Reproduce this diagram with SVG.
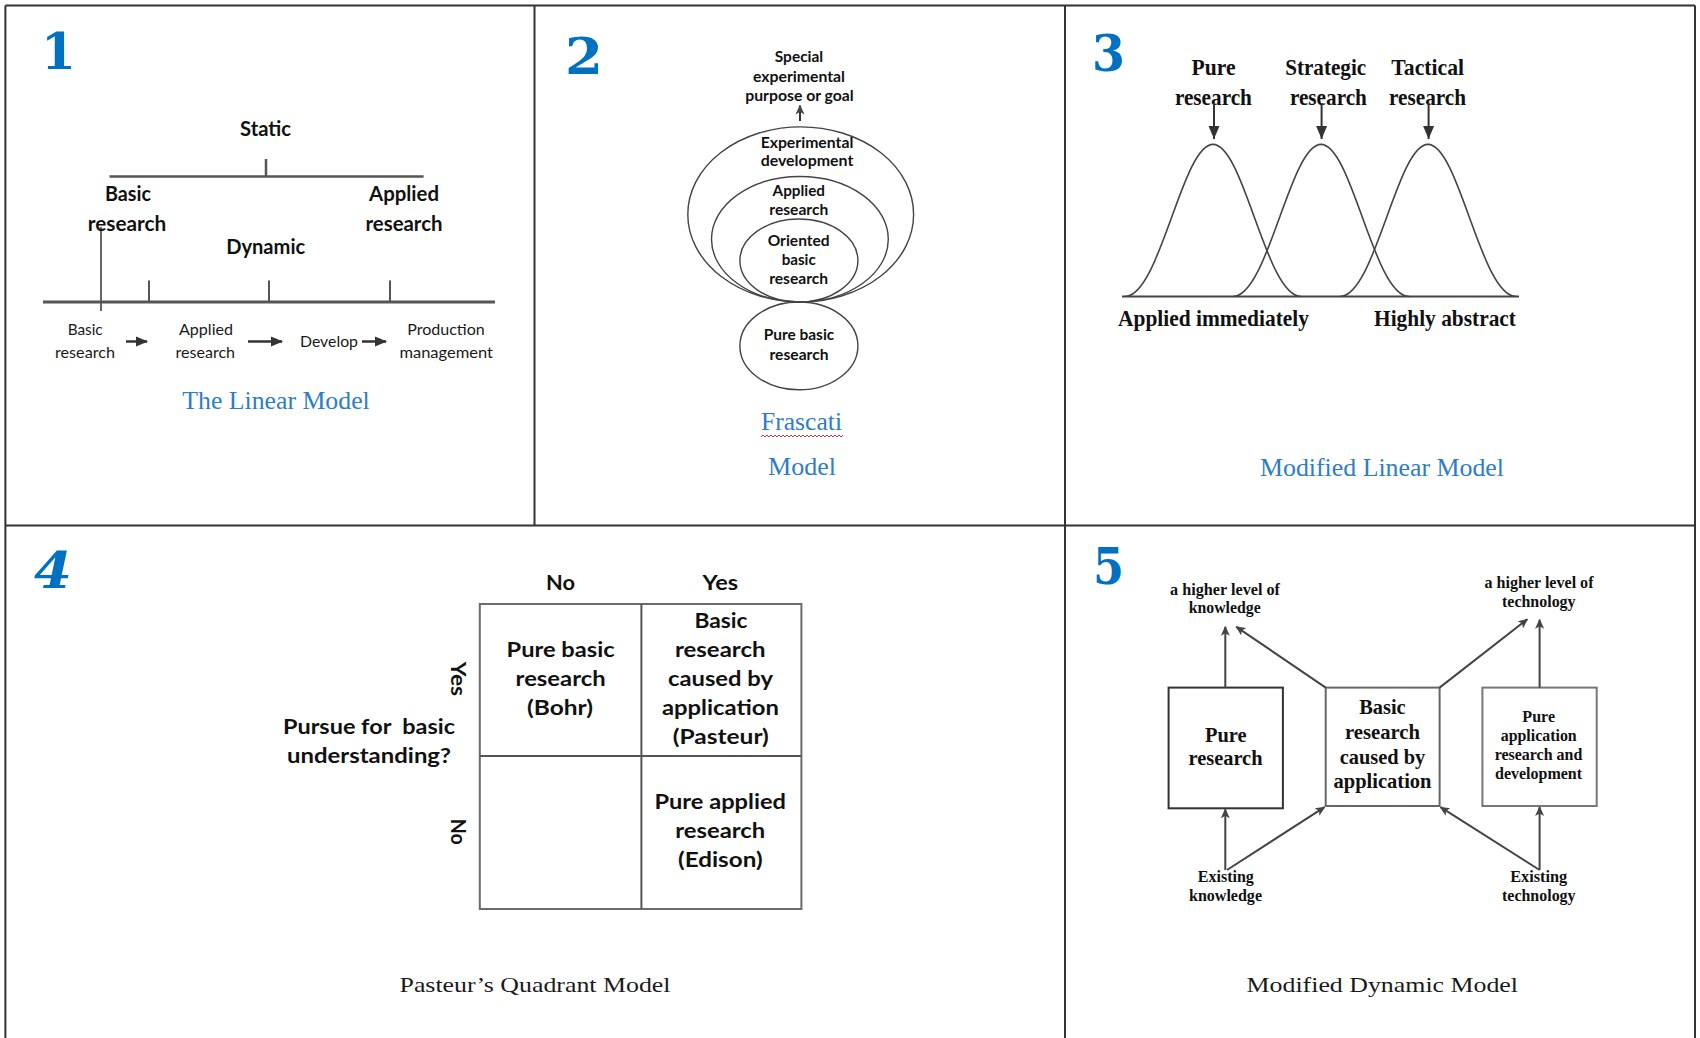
<svg xmlns="http://www.w3.org/2000/svg" width="1700" height="1038" viewBox="0 0 1700 1038">
<defs>
<style>
.frame{stroke:#333;stroke-width:2;fill:none}
.num{font-family:"DejaVu Serif","Liberation Serif",serif;font-weight:bold;font-size:50px;fill:#0070C0}
.cal{font-family:Lato,"Open Sans",sans-serif;font-weight:bold;fill:#111;text-anchor:middle}
.calr{font-family:Lato,"Open Sans",sans-serif;font-weight:normal;fill:#1a1a1a;text-anchor:middle}
.tnr{font-family:"Liberation Serif","Times New Roman",serif;font-weight:bold;fill:#111;text-anchor:middle}
.cap{font-family:"Liberation Serif","Times New Roman",serif;font-size:26px;fill:#2E7DC6;text-anchor:middle}
.capk{font-family:"Liberation Serif","Times New Roman",serif;font-size:22px;fill:#1a1a1a;text-anchor:middle}
.ln{stroke:#555;fill:none}
.ell{stroke:#444;stroke-width:1.4;fill:none}
.arr{stroke:#444;stroke-width:2;fill:none;marker-end:url(#ah)}
.bell{stroke:#444;stroke-width:1.6;fill:none}
</style>
<marker id="ah" markerWidth="10" markerHeight="10" refX="9" refY="5" orient="auto" markerUnits="userSpaceOnUse">
<path d="M0,0.5 L10,5 L0,9.5 L2.5,5 Z" fill="#444"/>
</marker>
<marker id="ah2" markerWidth="12" markerHeight="12" refX="11" refY="6" orient="auto" markerUnits="userSpaceOnUse">
<path d="M0,1 L12,6 L0,11 Z" fill="#333"/>
</marker>
<marker id="ah3" markerWidth="14" markerHeight="14" refX="13" refY="7" orient="auto" markerUnits="userSpaceOnUse">
<path d="M0,1.5 L13,7 L0,12.5 Z" fill="#333"/>
</marker>
</defs>
<rect width="1700" height="1038" fill="#fff"/>

<g id="frame">
<line class="frame" x1="5.4" y1="5.4" x2="1695" y2="5.4"/>
<line class="frame" x1="5.4" y1="5.4" x2="5.4" y2="1038"/>
<line class="frame" x1="1695" y1="5.4" x2="1695" y2="1038"/>
<line class="frame" x1="5.4" y1="525.5" x2="1695" y2="525.5"/>
<line class="frame" x1="534.5" y1="5.4" x2="534.5" y2="525.5"/>
<line class="frame" x1="1065" y1="5.4" x2="1065" y2="1038"/>
</g>

<g id="numbers">
<text class="num" x="41" y="68.6" textLength="35" lengthAdjust="spacingAndGlyphs">1</text>
<text class="num" x="565" y="74" textLength="38" lengthAdjust="spacingAndGlyphs">2</text>
<text class="num" x="1092" y="71" textLength="33" lengthAdjust="spacingAndGlyphs">3</text>
<text class="num" x="34" y="587.7" font-style="italic" textLength="38" lengthAdjust="spacingAndGlyphs">4</text>
<text class="num" x="1093" y="584.1" textLength="31" lengthAdjust="spacingAndGlyphs">5</text>
</g>

<!-- Panel 1: Linear model -->
<g id="p1-lines">
<line class="ln" stroke-width="2.5" x1="266" y1="159" x2="266" y2="176.5"/>
<line class="ln" stroke-width="2.5" x1="109.5" y1="176.5" x2="423.6" y2="176.5"/>
<line stroke="#333" stroke-width="1.5" x1="101" y1="227" x2="101" y2="311"/>
<line class="ln" stroke-width="3" x1="43" y1="302" x2="495" y2="302"/>
<line class="ln" stroke-width="2" x1="149" y1="280.6" x2="149" y2="302"/>
<line class="ln" stroke-width="2" x1="269" y1="280.6" x2="269" y2="302"/>
<line class="ln" stroke-width="2" x1="390" y1="280.6" x2="390" y2="302"/>
</g>
<g id="p1-static"><text class="cal" font-size="21" x="265.5" y="136" textLength="51" lengthAdjust="spacingAndGlyphs">Static</text></g>
<g id="p1-basic"><text class="cal" font-size="21" x="128" y="200.5" textLength="46" lengthAdjust="spacingAndGlyphs">Basic</text><text class="cal" font-size="21" x="127" y="231" textLength="78.5" lengthAdjust="spacingAndGlyphs">research</text></g>
<g id="p1-applied"><text class="cal" font-size="21" x="404" y="200.5" textLength="70" lengthAdjust="spacingAndGlyphs">Applied</text><text class="cal" font-size="21" x="404" y="231" textLength="77" lengthAdjust="spacingAndGlyphs">research</text></g>
<g id="p1-dynamic"><text class="cal" font-size="21" x="265.7" y="253.5" textLength="79" lengthAdjust="spacingAndGlyphs">Dynamic</text></g>
<g id="p1-s1"><text class="calr" font-size="15" x="85.2" y="334.7" textLength="35" lengthAdjust="spacingAndGlyphs">Basic</text><text class="calr" font-size="15" x="85" y="357.7" textLength="60" lengthAdjust="spacingAndGlyphs">research</text></g>
<g id="p1-s2"><text class="calr" font-size="15" x="206" y="334.7" textLength="54" lengthAdjust="spacingAndGlyphs">Applied</text><text class="calr" font-size="15" x="205.3" y="357.7" textLength="59.5" lengthAdjust="spacingAndGlyphs">research</text></g>
<g id="p1-s3"><text class="calr" font-size="15" x="329" y="346.5" textLength="58" lengthAdjust="spacingAndGlyphs">Develop</text></g>
<g id="p1-s4"><text class="calr" font-size="15" x="446" y="334.7" textLength="77.5" lengthAdjust="spacingAndGlyphs">Production</text><text class="calr" font-size="15" x="446.2" y="357.7" textLength="93.6" lengthAdjust="spacingAndGlyphs">management</text></g>
<g id="p1-arrows">
<line stroke="#333" stroke-width="2.5" x1="126" y1="341.5" x2="147" y2="341.5" marker-end="url(#ah2)"/>
<line stroke="#333" stroke-width="2.5" x1="248" y1="341.5" x2="282" y2="341.5" marker-end="url(#ah2)"/>
<line stroke="#333" stroke-width="2.5" x1="362" y1="341.5" x2="386" y2="341.5" marker-end="url(#ah2)"/>
</g>
<g id="p1-caption"><text class="cap" x="276" y="409" textLength="187.5" lengthAdjust="spacingAndGlyphs">The Linear Model</text></g>

<!-- Panel 2: Frascati -->
<g id="p2-goal"><text class="cal" font-size="14.5" x="799" y="62" textLength="48.4" lengthAdjust="spacingAndGlyphs">Special</text><text class="cal" font-size="14.5" x="799" y="82" textLength="92" lengthAdjust="spacingAndGlyphs">experimental</text><text class="cal" font-size="14.5" x="799.5" y="100.7" textLength="108.5" lengthAdjust="spacingAndGlyphs">purpose or goal</text></g>
<g id="p2-arrow"><line stroke="#333" stroke-width="2" x1="800" y1="121" x2="800" y2="105.5" marker-end="url(#ah)"/></g>
<g id="p2-exp"><ellipse class="ell" cx="800.7" cy="214.4" rx="112.9" ry="87.5"/><text class="cal" font-size="14.5" x="807" y="147.7" textLength="92.7" lengthAdjust="spacingAndGlyphs">Experimental</text><text class="cal" font-size="14.5" x="807" y="166.3" textLength="92.7" lengthAdjust="spacingAndGlyphs">development</text></g>
<g id="p2-app"><ellipse class="ell" cx="799.9" cy="239.2" rx="88.4" ry="62.7"/><text class="cal" font-size="14.5" x="798.8" y="196" textLength="52.4" lengthAdjust="spacingAndGlyphs">Applied</text><text class="cal" font-size="14.5" x="798.8" y="215" textLength="59" lengthAdjust="spacingAndGlyphs">research</text></g>
<g id="p2-ori"><ellipse class="ell" cx="798.9" cy="260.5" rx="59" ry="41.5"/><text class="cal" font-size="14.5" x="798.7" y="245.8" textLength="62" lengthAdjust="spacingAndGlyphs">Oriented</text><text class="cal" font-size="14.5" x="798.7" y="264.7" textLength="34" lengthAdjust="spacingAndGlyphs">basic</text><text class="cal" font-size="14.5" x="798.7" y="284.3" textLength="59" lengthAdjust="spacingAndGlyphs">research</text></g>
<g id="p2-pure"><ellipse class="ell" cx="798.9" cy="345.9" rx="59" ry="43.9"/><text class="cal" font-size="14.5" x="799" y="340" textLength="70.6" lengthAdjust="spacingAndGlyphs">Pure basic</text><text class="cal" font-size="14.5" x="799" y="359.7" textLength="59" lengthAdjust="spacingAndGlyphs">research</text></g>
<g id="p2-caption"><text class="cap" x="801.5" y="430" textLength="81" lengthAdjust="spacingAndGlyphs">Frascati</text>
<path d="M761,437 l2,-2 l2,2 l2,-2 l2,2 l2,-2 l2,2 l2,-2 l2,2 l2,-2 l2,2 l2,-2 l2,2 l2,-2 l2,2 l2,-2 l2,2 l2,-2 l2,2 l2,-2 l2,2 l2,-2 l2,2 l2,-2 l2,2 l2,-2 l2,2 l2,-2 l2,2 l2,-2 l2,2 l2,-2 l2,2 l2,-2 l2,2 l2,-2 l2,2 l2,-2 l2,2 l2,-2 l2,2 l2,-2" stroke="#e03030" stroke-width="1" fill="none"/>
<text class="cap" x="802" y="475" textLength="68" lengthAdjust="spacingAndGlyphs">Model</text></g>

<!-- Panel 3: Modified linear -->
<g id="p3-curves">
<line stroke="#444" stroke-width="2" x1="1122" y1="296.5" x2="1519" y2="296.5"/>
<path class="bell" d="M1125,296.5 C1160,296.5 1182,144.4 1213,144.4 C1244,144.4 1266,296.5 1301,296.5"/>
<path class="bell" d="M1233,296.5 C1268,296.5 1290,144.4 1321,144.4 C1352,144.4 1374,296.5 1409,296.5"/>
<path class="bell" d="M1340,296.5 C1375,296.5 1397,144.4 1428,144.4 C1459,144.4 1481,296.5 1516,296.5"/>
</g>
<g id="p3-pure"><text class="tnr" font-size="23" x="1213.5" y="75" textLength="44" lengthAdjust="spacingAndGlyphs">Pure</text><text class="tnr" font-size="23" x="1213.4" y="104.8" textLength="77" lengthAdjust="spacingAndGlyphs">research</text></g>
<g id="p3-strategic"><text class="tnr" font-size="23" x="1325.7" y="75" textLength="81" lengthAdjust="spacingAndGlyphs">Strategic</text><text class="tnr" font-size="23" x="1328.4" y="104.8" textLength="77" lengthAdjust="spacingAndGlyphs">research</text></g>
<g id="p3-tactical"><text class="tnr" font-size="23" x="1427.7" y="75" textLength="72.7" lengthAdjust="spacingAndGlyphs">Tactical</text><text class="tnr" font-size="23" x="1427.5" y="104.8" textLength="77" lengthAdjust="spacingAndGlyphs">research</text></g>
<g id="p3-arrows">
<line stroke="#333" stroke-width="2" x1="1214" y1="103" x2="1214" y2="139" marker-end="url(#ah3)"/>
<line stroke="#333" stroke-width="2" x1="1321.6" y1="103" x2="1321.6" y2="139" marker-end="url(#ah3)"/>
<line stroke="#333" stroke-width="2" x1="1428.6" y1="103" x2="1428.6" y2="139" marker-end="url(#ah3)"/>
</g>
<g id="p3-axis"><text class="tnr" font-size="23" x="1213.5" y="325.6" textLength="191" lengthAdjust="spacingAndGlyphs">Applied immediately</text><text class="tnr" font-size="23" x="1445" y="325.6" textLength="142" lengthAdjust="spacingAndGlyphs">Highly abstract</text></g>
<g id="p3-caption"><text class="cap" x="1382" y="476" textLength="244" lengthAdjust="spacingAndGlyphs">Modified Linear Model</text></g>

<!-- Panel 4: Pasteur's quadrant -->
<g id="p4-grid">
<rect x="479.8" y="604" width="321.6" height="305" fill="none" stroke="#6b6b6b" stroke-width="2"/>
<line stroke="#555" stroke-width="2" x1="641.4" y1="604" x2="641.4" y2="909"/>
<line stroke="#555" stroke-width="2" x1="479.8" y1="755.9" x2="801.4" y2="755.9"/>
</g>
<g id="p4-headers"><text class="cal" font-size="20" x="560.5" y="590" textLength="29" lengthAdjust="spacingAndGlyphs">No</text><text class="cal" font-size="20" x="720.3" y="590" textLength="35.5" lengthAdjust="spacingAndGlyphs">Yes</text></g>
<g id="p4-q1"><text class="cal" font-size="20" x="560.6" y="656.7" textLength="108" lengthAdjust="spacingAndGlyphs">Pure basic</text><text class="cal" font-size="20" x="560.6" y="686" textLength="90" lengthAdjust="spacingAndGlyphs">research</text><text class="cal" font-size="20" x="560" y="715" textLength="66" lengthAdjust="spacingAndGlyphs">(Bohr)</text></g>
<g id="p4-q2"><text class="cal" font-size="20" x="721" y="627.7" textLength="53" lengthAdjust="spacingAndGlyphs">Basic</text><text class="cal" font-size="20" x="720.2" y="656.7" textLength="90.5" lengthAdjust="spacingAndGlyphs">research</text><text class="cal" font-size="20" x="720.5" y="686" textLength="105" lengthAdjust="spacingAndGlyphs">caused by</text><text class="cal" font-size="20" x="720.4" y="715" textLength="117" lengthAdjust="spacingAndGlyphs">application</text><text class="cal" font-size="20" x="720.8" y="744.1" textLength="96" lengthAdjust="spacingAndGlyphs">(Pasteur)</text></g>
<g id="p4-q4"><text class="cal" font-size="20" x="720.2" y="809.3" textLength="131.5" lengthAdjust="spacingAndGlyphs">Pure applied</text><text class="cal" font-size="20" x="720.2" y="838.3" textLength="90" lengthAdjust="spacingAndGlyphs">research</text><text class="cal" font-size="20" x="720.3" y="867.4" textLength="84.5" lengthAdjust="spacingAndGlyphs">(Edison)</text></g>
<g id="p4-axis"><text class="cal" font-size="20" x="369" y="734.3" textLength="172" lengthAdjust="spacingAndGlyphs" xml:space="preserve">Pursue for  basic</text><text class="cal" font-size="20" x="369" y="763.4" textLength="164" lengthAdjust="spacingAndGlyphs">understanding?</text>
<text class="cal" font-size="20" transform="translate(451,678.9) rotate(90)" textLength="34.5" lengthAdjust="spacingAndGlyphs">Yes</text>
<text class="cal" font-size="20" transform="translate(451,831.7) rotate(90)" textLength="26" lengthAdjust="spacingAndGlyphs">No</text></g>
<g id="p4-caption"><text class="capk" x="535" y="991.7" textLength="271" lengthAdjust="spacingAndGlyphs">Pasteur’s Quadrant Model</text></g>

<!-- Panel 5: Modified dynamic -->
<g id="p5-hk"><text class="tnr" font-size="16" x="1225" y="595" textLength="110" lengthAdjust="spacingAndGlyphs">a higher level of</text><text class="tnr" font-size="16" x="1224.7" y="613.3" textLength="72" lengthAdjust="spacingAndGlyphs">knowledge</text></g>
<g id="p5-ht"><text class="tnr" font-size="16" x="1539" y="587.7" textLength="109" lengthAdjust="spacingAndGlyphs">a higher level of</text><text class="tnr" font-size="16" x="1538.8" y="606.5" textLength="73.5" lengthAdjust="spacingAndGlyphs">technology</text></g>
<g id="p5-pure"><rect x="1168.6" y="687.6" width="114.3" height="120.7" fill="#fff" stroke="#333" stroke-width="2"/><text class="tnr" font-size="22" x="1225.8" y="741.6" textLength="41.6" lengthAdjust="spacingAndGlyphs">Pure</text><text class="tnr" font-size="22" x="1225.5" y="765" textLength="74" lengthAdjust="spacingAndGlyphs">research</text></g>
<g id="p5-basic"><rect x="1325.7" y="687.6" width="113.9" height="118.4" fill="#fff" stroke="#666" stroke-width="2"/><text class="tnr" font-size="21" x="1382.4" y="714.3" textLength="46.5" lengthAdjust="spacingAndGlyphs">Basic</text><text class="tnr" font-size="21" x="1382.5" y="739.3" textLength="75" lengthAdjust="spacingAndGlyphs">research</text><text class="tnr" font-size="21" x="1382.5" y="764" textLength="85.7" lengthAdjust="spacingAndGlyphs">caused by</text><text class="tnr" font-size="21" x="1382.5" y="788.3" textLength="98" lengthAdjust="spacingAndGlyphs">application</text></g>
<g id="p5-applied"><rect x="1482.4" y="687.6" width="114.3" height="118.4" fill="#fff" stroke="#777" stroke-width="2"/><text class="tnr" font-size="16" x="1538.7" y="721.7" textLength="32.7" lengthAdjust="spacingAndGlyphs">Pure</text><text class="tnr" font-size="16" x="1538.7" y="741" textLength="76" lengthAdjust="spacingAndGlyphs">application</text><text class="tnr" font-size="16" x="1538.5" y="760" textLength="87.7" lengthAdjust="spacingAndGlyphs">research and</text><text class="tnr" font-size="16" x="1538.5" y="779" textLength="87" lengthAdjust="spacingAndGlyphs">development</text></g>
<g id="p5-ek"><text class="tnr" font-size="16" x="1225.8" y="882.4" textLength="56" lengthAdjust="spacingAndGlyphs">Existing</text><text class="tnr" font-size="16" x="1225.5" y="901" textLength="73" lengthAdjust="spacingAndGlyphs">knowledge</text></g>
<g id="p5-et"><text class="tnr" font-size="16" x="1538.7" y="882.4" textLength="57" lengthAdjust="spacingAndGlyphs">Existing</text><text class="tnr" font-size="16" x="1538.8" y="901" textLength="73.5" lengthAdjust="spacingAndGlyphs">technology</text></g>
<g id="p5-connectors">
<line class="arr" x1="1225.3" y1="687.6" x2="1225.3" y2="626.8"/>
<line class="arr" x1="1325.7" y1="687.6" x2="1236.3" y2="626.8"/>
<line class="arr" x1="1439.6" y1="687.6" x2="1527.3" y2="619.3"/>
<line class="arr" x1="1539.6" y1="687.6" x2="1539.6" y2="619.7"/>
<line class="arr" x1="1225.3" y1="870" x2="1225.3" y2="809.3"/>
<line class="arr" x1="1227" y1="870" x2="1324.5" y2="807.2"/>
<line class="arr" x1="1539.6" y1="870" x2="1539.6" y2="807"/>
<line class="arr" x1="1539.6" y1="870" x2="1440.5" y2="807.2"/>
</g>
<g id="p5-caption"><text class="capk" x="1382.3" y="991.7" textLength="271.5" lengthAdjust="spacingAndGlyphs">Modified Dynamic Model</text></g>
</svg>
